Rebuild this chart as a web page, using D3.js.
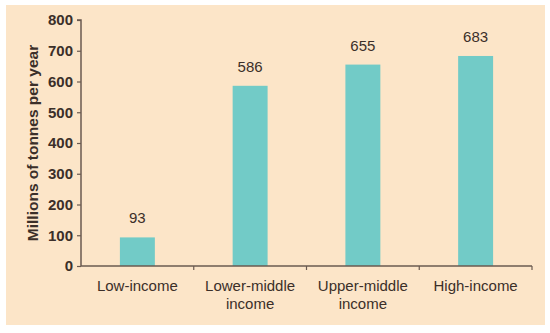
<!DOCTYPE html>
<html>
<head>
<meta charset="utf-8">
<script src="https://cdn.jsdelivr.net/npm/d3@7"></script>
<style>
  body { margin: 0; background: #fff; }
  svg { display: block; }
  text { font-family: "Liberation Sans", Arial, sans-serif; fill: #3b2f29; }
</style>
</head>
<body>
<svg id="chart" width="550" height="333"></svg>
<script>
// income groups (two-line labels split on \n)
const categories = ["Low-income", "Lower-middle\nincome", "Upper-middle\nincome", "High-income"];
const values = [93, 586, 655, 683];
const yTicks = [0, 100, 200, 300, 400, 500, 600, 700, 800];

const svg = d3.select("#chart");

const margin = {top: 20, right: 18, bottom: 67, left: 81};
const width = 550, height = 333;

// beige panel
svg.append("rect")
  .attr("x", 6).attr("y", 5)
  .attr("width", 539).attr("height", 320)
  .attr("fill", "#fce5c8");

const x = d3.scaleBand()
  .domain(categories)
  .range([margin.left, width - margin.right])
  .padding(0);

const y = d3.scaleLinear()
  .domain([0, 800])
  .range([height - margin.bottom, margin.top]);

const barW = x.bandwidth() * 0.31;

/** Bars
------------------------------------------------------------*/
svg.append("g")
  .selectAll("rect")
  .data(values)
  .enter().append("rect")
  .attr("x", (d, i) => x(categories[i]) + x.bandwidth() / 2 - barW / 2)
  .attr("y", d => y(d))
  .attr("width", barW)
  .attr("height", d => y(0) - y(d))
  .attr("fill", "#72cbc7");

// value labels
svg.append("g")
  .selectAll("text")
  .data(values)
  .enter().append("text")
  .attr("x", (d, i) => x(categories[i]) + x.bandwidth() / 2)
  .attr("y", d => y(d) - 14)
  .attr("text-anchor", "middle")
  .attr("font-size", 15)
  .text(d => d);

/** Axes
------------------------------------------------------------*/
const axisColor = "#6a5a50";

const yAxis = svg.append("g")
  .attr("transform", `translate(${margin.left},0)`)
  .call(d3.axisLeft(y).tickValues(yTicks).tickSize(4).tickPadding(4));
yAxis.select(".domain").attr("stroke", axisColor).attr("stroke-width", 1.5)
  .attr("d", `M-4,${y(800)}H0V${y(0)}`);
yAxis.selectAll(".tick line").attr("stroke", axisColor).attr("stroke-width", 1.2);
yAxis.selectAll(".tick text")
  .attr("font-size", 15)
  .attr("font-weight", 600)
  .attr("fill", "#3b2f29")
  .style("font-family", "'Liberation Sans', Arial, sans-serif");

// x axis line with ticks at band edges
const xG = svg.append("g");
xG.append("line")
  .attr("x1", margin.left).attr("x2", width - margin.right)
  .attr("y1", y(0)).attr("y2", y(0))
  .attr("stroke", axisColor).attr("stroke-width", 1.5);
xG.selectAll(".xt")
  .data(categories)
  .enter().append("line")
  .attr("x1", d => x(d) + x.bandwidth())
  .attr("x2", d => x(d) + x.bandwidth())
  .attr("y1", y(0)).attr("y2", y(0) + 4)
  .attr("stroke", axisColor).attr("stroke-width", 1.2);

xG.selectAll(".xl")
  .data(categories)
  .enter().append("text")
  .attr("x", d => x(d) + x.bandwidth() / 2)
  .attr("y", y(0) + 25)
  .attr("text-anchor", "middle")
  .attr("font-size", 15)
  .each(function (d) {
    const lines = d.split("\n");
    const t = d3.select(this);
    lines.forEach((l, i) => {
      t.append("tspan")
        .attr("x", x(d) + x.bandwidth() / 2)
        .attr("dy", i === 0 ? 0 : 18)
        .text(l);
    });
  });

// y axis title
svg.append("text")
  .attr("transform", `translate(38,${(y(0) + y(800)) / 2}) rotate(-90)`)
  .attr("text-anchor", "middle")
  .attr("font-size", 15.5)
  .attr("font-weight", 600)
  .text("Millions of tonnes per year");
</script>
</body>
</html>
